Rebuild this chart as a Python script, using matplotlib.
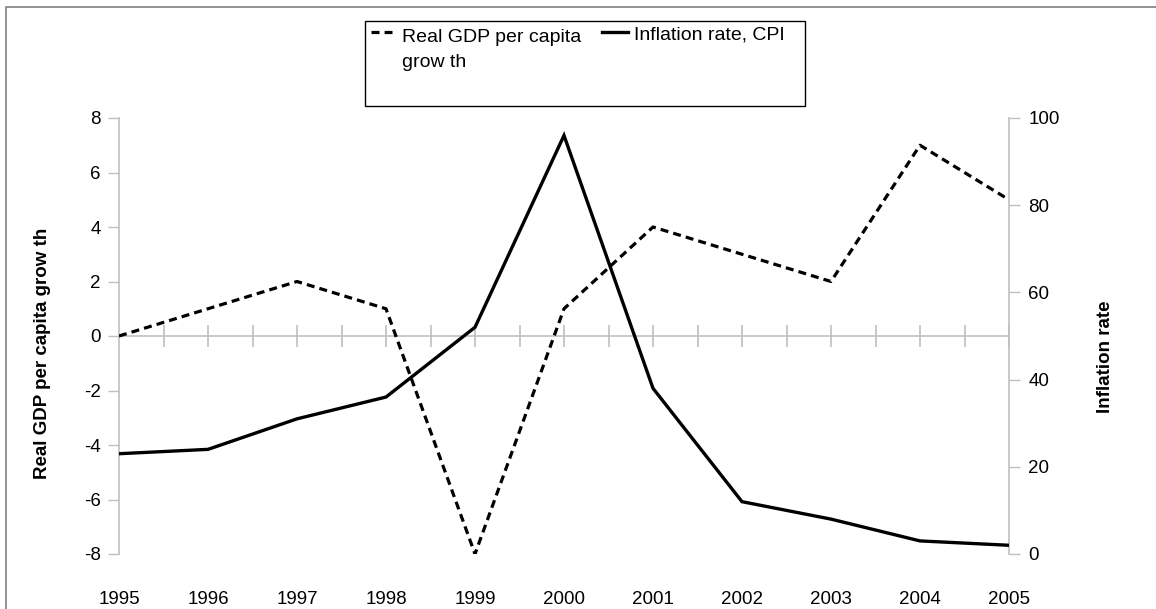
import numpy as np
import matplotlib.pyplot as plt
from matplotlib.lines import Line2D
from matplotlib.patches import Rectangle

plt.rcParams['font.family'] = ['Liberation Sans', 'DejaVu Sans']
plt.rcParams['axes.unicode_minus'] = False

years = [1995, 1996, 1997, 1998, 1999, 2000, 2001, 2002, 2003, 2004, 2005]
gdp_growth = [0, 1, 2, 1, -8, 1, 4, 3, 2, 7, 5]
inflation = [23, 24, 31, 36, 52, 96, 38, 12, 8, 3, 2]
gdp_ticks = [-8, -6, -4, -2, 0, 2, 4, 6, 8]
infl_ticks = [0, 20, 40, 60, 80, 100]

W, H = 1156, 609
GRAY = '#c0c0c0'
DASH = (2.5, 1.6)


def fx(x):
    return x / W


def fy(y):
    return 1 - y / H


fig = plt.figure(figsize=(W / 100, H / 100), dpi=100)
ax = fig.add_axes([fx(119), fy(554), fx(1009) - fx(119), fy(118) - fy(554)])
ax2 = ax.twinx()

# GDP growth on the left axis, dashed
ax.plot(years, gdp_growth, color='black', lw=2.3, dashes=DASH,
        dash_capstyle='butt', zorder=3)
# inflation on the right axis, solid
ax2.plot(years, inflation, color='black', lw=2.4, solid_joinstyle='miter', zorder=3)

ax.set_xlim(years[0], years[-1])
ax.set_ylim(gdp_ticks[0], gdp_ticks[-1])
ax2.set_ylim(infl_ticks[0], infl_ticks[-1])

# category axis crossing at zero, with ticks every half year
ax.axhline(0, color=GRAY, lw=1.2, zorder=1)
half_years = np.arange(years[0] + 0.5, years[-1] + 0.01, 0.5)
ax.plot(half_years, np.zeros_like(half_years), ls='none', marker='|',
        ms=16, mew=1.2, color=GRAY, zorder=1)

for a in (ax, ax2):
    for s in ('top', 'bottom'):
        a.spines[s].set_visible(False)
ax.spines['right'].set_visible(False)
ax2.spines['left'].set_visible(False)
ax.spines['left'].set_color(GRAY)
ax2.spines['right'].set_color(GRAY)
ax.spines['left'].set_linewidth(1.2)
ax2.spines['right'].set_linewidth(1.2)

ax.set_yticks(gdp_ticks)
ax2.set_yticks(infl_ticks)
ax.tick_params(axis='y', length=8, width=1, color=GRAY, labelsize=13.5, pad=5)
ax2.tick_params(axis='y', length=8, width=1, color=GRAY, labelsize=13.5, pad=6)

ax.set_xticks(years)
ax.set_xticklabels([str(y) for y in years])
ax.tick_params(axis='x', length=0, labelsize=13.5, pad=27)

ax.set_ylabel('Real GDP per capita grow th', fontsize=13.5, fontweight='bold')
ax.yaxis.set_label_coords(-0.0764, 0.461)
ax2.set_ylabel('Inflation rate', fontsize=13.5, fontweight='bold', rotation=90)
ax2.yaxis.set_label_coords(1.099, 0.452)

# legend box
fig.patches.append(Rectangle((fx(365), fy(106)), fx(805) - fx(365), fy(21) - fy(106),
                             transform=fig.transFigure, fill=False,
                             edgecolor='black', lw=1))
fig.lines.append(Line2D([fx(371), fx(392)], [fy(32), fy(32)], transform=fig.transFigure,
                        color='black', lw=2.3, dashes=DASH, dash_capstyle='butt'))
fig.text(fx(402), fy(50), 'Real GDP per capita\ngrow th', fontsize=14,
         va='center', ha='left', linespacing=1.55)
fig.lines.append(Line2D([fx(602), fx(628)], [fy(32), fy(32)], transform=fig.transFigure,
                        color='black', lw=2.4))
fig.text(fx(634), fy(35), 'Inflation rate, CPI', fontsize=14, va='center', ha='left')

# chart area border
fig.lines.append(Line2D([fx(6), fx(6), fx(W + 5)], [fy(H + 5), fy(7), fy(7)],
                        transform=fig.transFigure, color='#808080', lw=1.2))

fig.savefig('out.png', dpi=100)
